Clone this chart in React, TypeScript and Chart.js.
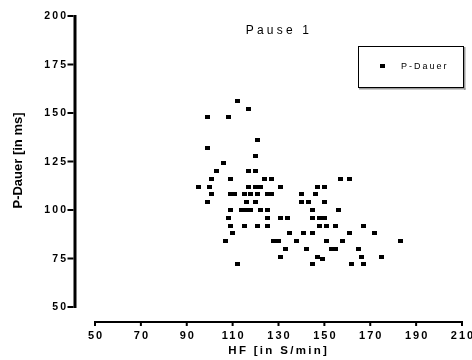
import React, { useEffect, useRef } from "react";
import { Chart, registerables } from "chart.js";

Chart.register(...registerables);

const chartTitle = "Pause 1";
const seriesLabel = "P-Dauer";
const xAxisTitle = "HF [in S/min]";
const yAxisTitle = "P-Dauer [in ms]";
const xTicks = [50, 70, 90, 110, 130, 150, 170, 190, 210];
const yTicks = [50, 75, 100, 125, 150, 175, 200];

// heart rate (x) and P duration (y), paired by index
const hfValues = [
  112, 117, 99, 108, 121, 99, 120, 106,
  103, 117, 120,
  101, 109, 124, 127, 157, 161,
  95, 100, 117, 120, 122, 131, 147, 150,
  101, 109, 111, 115, 118, 121, 125, 127, 140, 146,
  99, 116, 120, 140, 143, 150,
  109, 114, 116, 118, 122, 125, 145, 156,
  108, 125, 131, 134, 145, 148, 150,
  109, 115, 121, 125, 148, 151, 155, 167,
  110, 135, 141, 145, 161, 172,
  107, 128, 130, 138, 151, 158, 183,
  133, 142, 153, 155, 165,
  131, 147, 149, 166, 175,
  112, 145, 162, 167,
];
const pDauerValues = [
  156, 152, 148, 148, 136, 132, 128, 124,
  120, 120, 120,
  116, 116, 116, 116, 116, 116,
  112, 112, 112, 112, 112, 112, 112, 112,
  108, 108, 108, 108, 108, 108, 108, 108, 108, 108,
  104, 104, 104, 104, 104, 104,
  100, 100, 100, 100, 100, 100, 100, 100,
  96, 96, 96, 96, 96, 96, 96,
  92, 92, 92, 92, 92, 92, 92, 92,
  88, 88, 88, 88, 88, 88,
  84, 84, 84, 84, 84, 84, 84,
  80, 80, 80, 80, 80,
  76, 76, 75, 76, 76,
  72, 72, 72, 72,
];

const FONT = '"Liberation Sans", Arial, sans-serif';

function makeMarker(): HTMLCanvasElement {
  const c = document.createElement("canvas");
  c.width = 5;
  c.height = 4;
  const g = c.getContext("2d")!;
  g.fillStyle = "#000";
  g.fillRect(0, 0, 5, 4);
  return c;
}

const prismAxesPlugin = {
  id: "prismAxes",
  afterDraw(chart: any) {
    const ctx: any = chart.ctx;
    const xs = chart.scales.x;
    const ys = chart.scales.y;
    const area = chart.chartArea;
    ctx.save();
    ctx.fillStyle = "#000";

    // Y axis (detached)
    const yTop = ys.getPixelForValue(yTicks[yTicks.length - 1]);
    const yBot = ys.getPixelForValue(yTicks[0]);
    const axisX = area.left - 20;
    ctx.fillRect(axisX - 1.5, yTop - 1, 3, yBot - yTop + 2);
    ctx.font = `bold 10.5px ${FONT}`;
    ctx.letterSpacing = "2.2px";
    ctx.textAlign = "right";
    ctx.textBaseline = "middle";
    for (const v of yTicks) {
      const py = ys.getPixelForValue(v);
      ctx.fillRect(axisX - 7.5, py - 1, 6, 2);
      ctx.fillText(String(v), axisX - 6.6, py + 0.5);
    }

    // X axis (detached)
    const xL = xs.getPixelForValue(xTicks[0]);
    const xR = xs.getPixelForValue(xTicks[xTicks.length - 1]);
    const axisY = area.bottom + 15;
    ctx.fillRect(xL - 1, axisY - 1, xR - xL + 2, 2);
    ctx.font = `bold 11px ${FONT}`;
    ctx.letterSpacing = "2px";
    ctx.textAlign = "center";
    for (const v of xTicks) {
      const px = xs.getPixelForValue(v);
      ctx.fillRect(px - 1, axisY - 1, 2, 5);
      ctx.fillText(String(v), px + 1, axisY + 14);
    }

    // X title
    ctx.font = `bold 11.5px ${FONT}`;
    ctx.letterSpacing = "2.3px";
    ctx.fillText(xAxisTitle, (area.left + area.right) / 2 + 0.2, axisY + 29);

    // Y title
    ctx.save();
    ctx.font = `bold 13px ${FONT}`;
    ctx.letterSpacing = "0px";
    ctx.textAlign = "center";
    ctx.textBaseline = "alphabetic";
    ctx.translate(21.7, (area.top + area.bottom) / 2 - 1);
    ctx.rotate(-Math.PI / 2);
    ctx.fillText(yAxisTitle, 0, 0);
    ctx.restore();

    // Chart title
    ctx.font = `12px ${FONT}`;
    ctx.letterSpacing = "3.2px";
    ctx.textAlign = "center";
    ctx.textBaseline = "middle";
    ctx.fillText(chartTitle, (area.left + area.right) / 2 + 0.5, area.top + 15);

    // Legend box
    const bx = 358, by = 46, bw = 106, bh = 42;
    ctx.fillStyle = "#9a9a9a";
    ctx.fillRect(bx + bw, by + 1, 1.5, bh + 1);
    ctx.fillRect(bx + 1, by + bh, bw + 0.5, 1.5);
    ctx.strokeStyle = "#000";
    ctx.lineWidth = 1;
    ctx.strokeRect(bx + 0.5, by + 0.5, bw - 1, bh - 1);
    ctx.fillStyle = "#000";
    ctx.fillRect(380, 64, 5, 4);
    ctx.font = `9px ${FONT}`;
    ctx.letterSpacing = "2px";
    ctx.textAlign = "left";
    ctx.textBaseline = "middle";
    const label = chart.data.datasets[0].label;
    ctx.fillText(label, 401, 66.5);

    ctx.letterSpacing = "0px";
    ctx.restore();
  },
};

export default function App() {
  const canvasRef = useRef<HTMLCanvasElement | null>(null);

  useEffect(() => {
    document.body.style.margin = "0";
    const canvas = canvasRef.current;
    if (!canvas) return;
    const marker = makeMarker();
    const points = hfValues.map((x, i) => ({ x, y: pDauerValues[i] }));
    const chart = new Chart(canvas, {
      type: "scatter",
      data: {
        datasets: [
          {
            label: seriesLabel,
            data: points,
            pointStyle: marker as any,
            pointRadius: 3,
            pointHoverRadius: 3,
            backgroundColor: "#000",
            borderColor: "#000",
          },
        ],
      },
      options: {
        animation: false,
        responsive: false,
        devicePixelRatio: 1,
        events: [],
        layout: { padding: { left: 95, right: 10, top: 16, bottom: 53 } },
        plugins: {
          legend: { display: false },
          title: { display: false },
          tooltip: { enabled: false },
        },
        scales: {
          x: { type: "linear", display: false, min: 50, max: 210 },
          y: { type: "linear", display: false, min: 50, max: 200 },
        },
      },
      plugins: [prismAxesPlugin],
    });
    return () => chart.destroy();
  }, []);

  return (
    <div style={{ width: 472, height: 360, background: "#fff" }}>
      <canvas ref={canvasRef} width={472} height={360} style={{ display: "block" }} />
    </div>
  );
}
